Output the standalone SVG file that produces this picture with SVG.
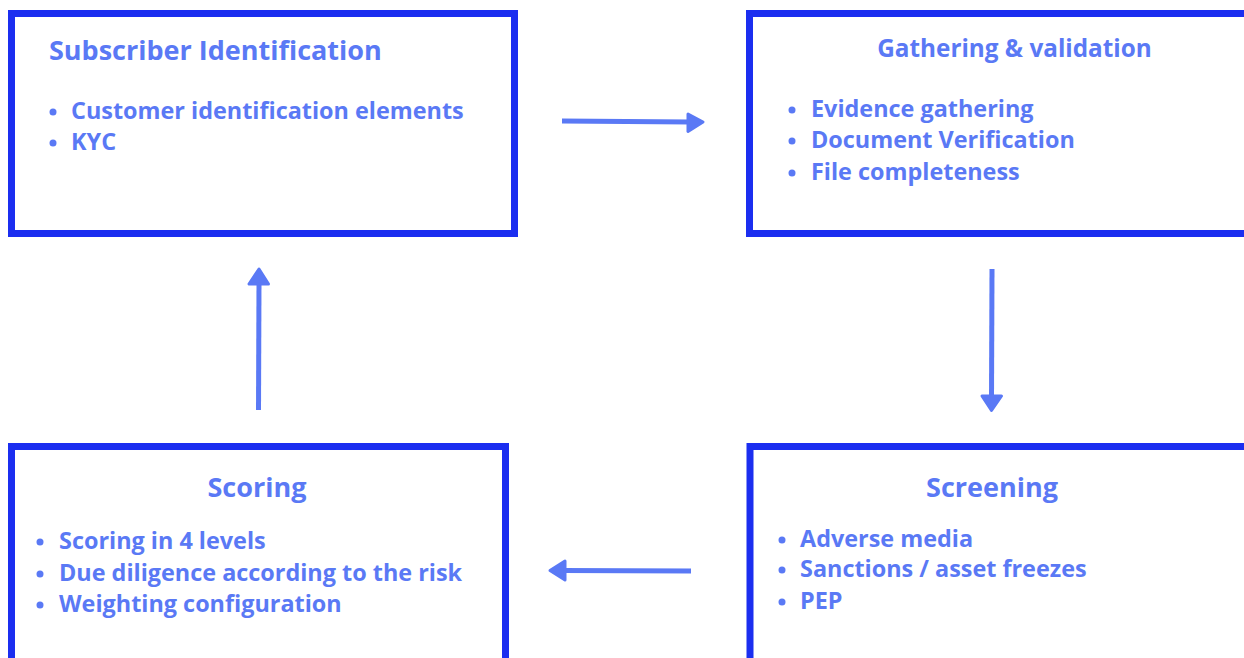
<svg xmlns="http://www.w3.org/2000/svg" width="1244" height="658" viewBox="0 0 1244 658">
<defs>
<style>
.box{fill:#ffffff;stroke:#1b2ef0;stroke-width:7}
.t{font-family:"Open Sans","Noto Sans",sans-serif;font-weight:700;fill:#5a79f5}
.title{font-size:27px}
.title-s{font-size:24.3px}
.item{font-size:23.4px}
.dot{fill:#5a79f5}
.conn{stroke:#5a79f5;stroke-width:5;fill:none}
.head{fill:#5a79f5;stroke:#5a79f5;stroke-width:3;stroke-linejoin:round}
</style>
</defs>
<rect width="1244" height="658" fill="#ffffff"/>
<g id="subscriber-identification">
<rect class="box" x="11.5" y="13.5" width="503" height="220"/>
<text class="t title" x="49" y="60">Subscriber Identification</text>
<circle class="dot" cx="53" cy="112" r="3.5"/>
<text class="t item" x="71" y="119">Customer identification elements</text>
<circle class="dot" cx="53" cy="143" r="3.5"/>
<text class="t item" x="71" y="150">KYC</text>
</g>
<g id="gathering-validation">
<rect class="box" x="749.5" y="13.5" width="510" height="220"/>
<text class="t title-s" x="1014.5" y="57" text-anchor="middle">Gathering &amp; validation</text>
<circle class="dot" cx="792" cy="110" r="3.5"/>
<text class="t item" x="811" y="117">Evidence gathering</text>
<circle class="dot" cx="792" cy="141" r="3.5"/>
<text class="t item" x="811" y="148">Document Verification</text>
<circle class="dot" cx="792" cy="173" r="3.5"/>
<text class="t item" x="811" y="180">File completeness</text>
</g>
<g id="screening">
<rect class="box" x="750" y="446.5" width="510" height="230"/>
<text class="t title" x="992" y="497" text-anchor="middle">Screening</text>
<circle class="dot" cx="782" cy="540" r="3.5"/>
<text class="t item" x="800" y="547">Adverse media</text>
<circle class="dot" cx="782" cy="570" r="3.5"/>
<text class="t item" x="800" y="577">Sanctions / asset freezes</text>
<circle class="dot" cx="782" cy="602" r="3.5"/>
<text class="t item" x="800" y="609">PEP</text>
</g>
<g id="scoring">
<rect class="box" x="11.5" y="446.5" width="494" height="230"/>
<text class="t title" x="257" y="497" text-anchor="middle">Scoring</text>
<circle class="dot" cx="40" cy="542" r="3.5"/>
<text class="t item" x="59" y="549">Scoring in 4 levels</text>
<circle class="dot" cx="40" cy="574" r="3.5"/>
<text class="t item" x="59" y="581">Due diligence according to the risk</text>
<circle class="dot" cx="40" cy="605" r="3.5"/>
<text class="t item" x="59" y="612">Weighting configuration</text>
</g>
<g id="connectors">
<line class="conn" x1="562" y1="121" x2="690" y2="122"/>
<polygon class="head" points="688,114 703,122 688,131.5"/>
<line class="conn" x1="992" y1="269" x2="991.5" y2="397"/>
<polygon class="head" points="982,396 1001.5,396 991.5,410.5"/>
<line class="conn" x1="691" y1="571" x2="563" y2="570.5"/>
<polygon class="head" points="565,561 565,580 550,570.5"/>
<line class="conn" x1="258.5" y1="410" x2="259" y2="283"/>
<polygon class="head" points="249,284 268.5,284 259,269"/>
</g>
</svg>
